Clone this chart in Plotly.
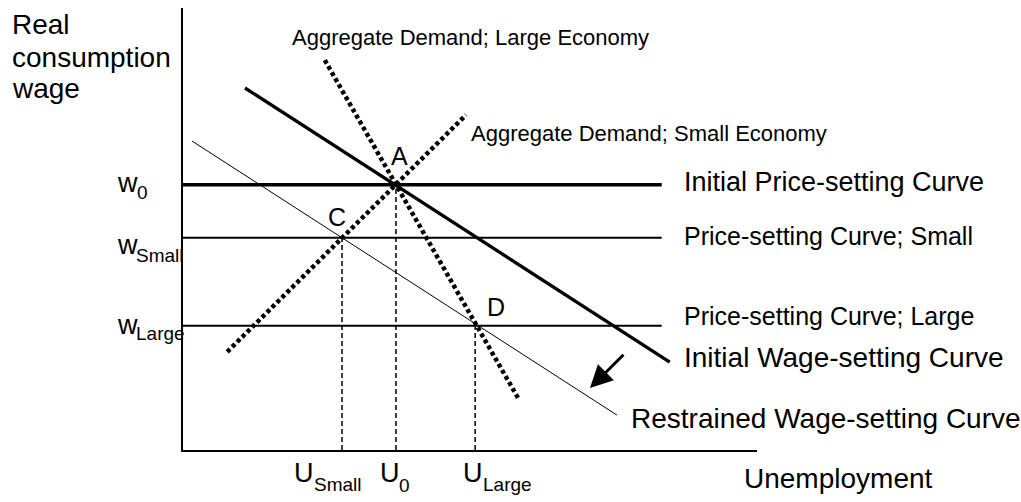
import plotly.graph_objects as go

# ---------------- data (axis units: x 0..10, y 0..10) ----------------
w0 = 6.0
w_small = 4.80
w_large = 2.81
u0 = 3.71
u_small = 2.77
u_large = 5.09
ps_x_end = 8.34

ps_initial_x = [0, ps_x_end]
ps_initial_y = [w0, w0]
ps_small_x = [0, ps_x_end]
ps_small_y = [w_small, w_small]
ps_large_x = [0, ps_x_end]
ps_large_y = [w_large, w_large]

ws_initial_x = [1.08, 8.48]
ws_initial_y = [8.19, 1.99]
ws_restrained_x = [0.157, 7.56]
ws_restrained_y = [6.99, 0.79]

ad_large_x = [2.47, 5.84]
ad_large_y = [8.82, 1.17]
ad_small_x = [0.77, 4.93]
ad_small_y = [2.22, 7.58]

drop_x = [u_small, u0, u_large]
drop_y = [w_small, w0, w_large]

arrow_tail = [7.70, 2.19]
arrow_head = [7.09, 1.40]

FONT = "Arial, Liberation Sans, sans-serif"

fig = go.Figure()

def line(x, y, width, dash="solid"):
    fig.add_trace(go.Scatter(x=x, y=y, mode="lines", showlegend=False, hoverinfo="skip",
                             line=dict(color="black", width=width, dash=dash)))

line(ps_initial_x, ps_initial_y, 3.5)
line(ps_small_x, ps_small_y, 2)
line(ps_large_x, ps_large_y, 2)
line(ws_initial_x, ws_initial_y, 3.3)
line(ws_restrained_x, ws_restrained_y, 1)
line(ad_large_x, ad_large_y, 4.5, "4px,3px")
line(ad_small_x, ad_small_y, 4.5, "4px,3px")
for xv, yv in zip(drop_x, drop_y):
    line([xv, xv], [0, yv], 1.5, "5px,3px")

# pixel -> paper helpers for text placement
L, R, T, B = 183, 757, 8, 450
def px(p):
    return (p - L) / (R - L)
def py(p):
    return (B - p) / (B - T)

def label(text, x, y, size, xanchor="left"):
    fig.add_annotation(text=text, x=px(x), y=py(y), xref="paper", yref="paper",
                       xanchor=xanchor, yanchor="middle", showarrow=False,
                       font=dict(family=FONT, size=size, color="black"))

# y-axis title
label("Real", 10, 25, 28)
label("consumption", 10, 57, 28)
label("wage", 10, 88, 28)
label("Unemployment", 742, 478, 28)

# curve labels
label("Aggregate Demand; Large Economy", 290, 37, 22)
label("Aggregate Demand; Small Economy", 469, 133, 22)
label("Initial Price-setting Curve", 682, 182, 27)
label("Price-setting Curve; Small", 682, 236, 25)
label("Price-setting Curve; Large", 682, 316, 25)
label("Initial Wage-setting Curve", 682, 357, 28)
label("Restrained Wage-setting Curve", 629, 418, 28)

# points
label("A", 399, 156, 25, "center")
label("C", 337, 217, 25, "center")
label("D", 496, 307, 25, "center")

# axis value labels (main letter + subscript)
label("w", 115, 183, 27)
label("0", 135, 193, 19)
label("w", 115, 245, 27)
label("Small", 134, 255, 19)
label("w", 115, 325, 27)
label("Large", 134, 333, 19)
label("U", 292, 473, 27)
label("Small", 312, 484, 19)
label("U", 378, 473, 27)
label("0", 397, 486, 19)
label("U", 461, 473, 27)
label("Large", 481, 484, 19)

# shift arrow
fig.add_annotation(x=arrow_head[0], y=arrow_head[1], ax=arrow_tail[0], ay=arrow_tail[1],
                   xref="x", yref="y", axref="x", ayref="y", text="", showarrow=True,
                   arrowhead=2, arrowsize=1.5, arrowwidth=3, arrowcolor="black")

fig.update_xaxes(range=[0, 10], showgrid=False, zeroline=False, showticklabels=False,
                 ticks="", showline=True, linecolor="black", linewidth=1.5, fixedrange=True)
fig.update_yaxes(range=[0, 10], showgrid=False, zeroline=False, showticklabels=False,
                 ticks="", showline=True, linecolor="black", linewidth=1.5, fixedrange=True)
fig.update_layout(width=1021, height=502, margin=dict(l=L, r=1021 - R, t=T, b=502 - B),
                  plot_bgcolor="white", paper_bgcolor="white", showlegend=False,
                  font=dict(family=FONT))

fig.write_html("out.html", config={"displayModeBar": False},
               post_script="document.body.style.margin='0';document.body.style.overflow='hidden';")
